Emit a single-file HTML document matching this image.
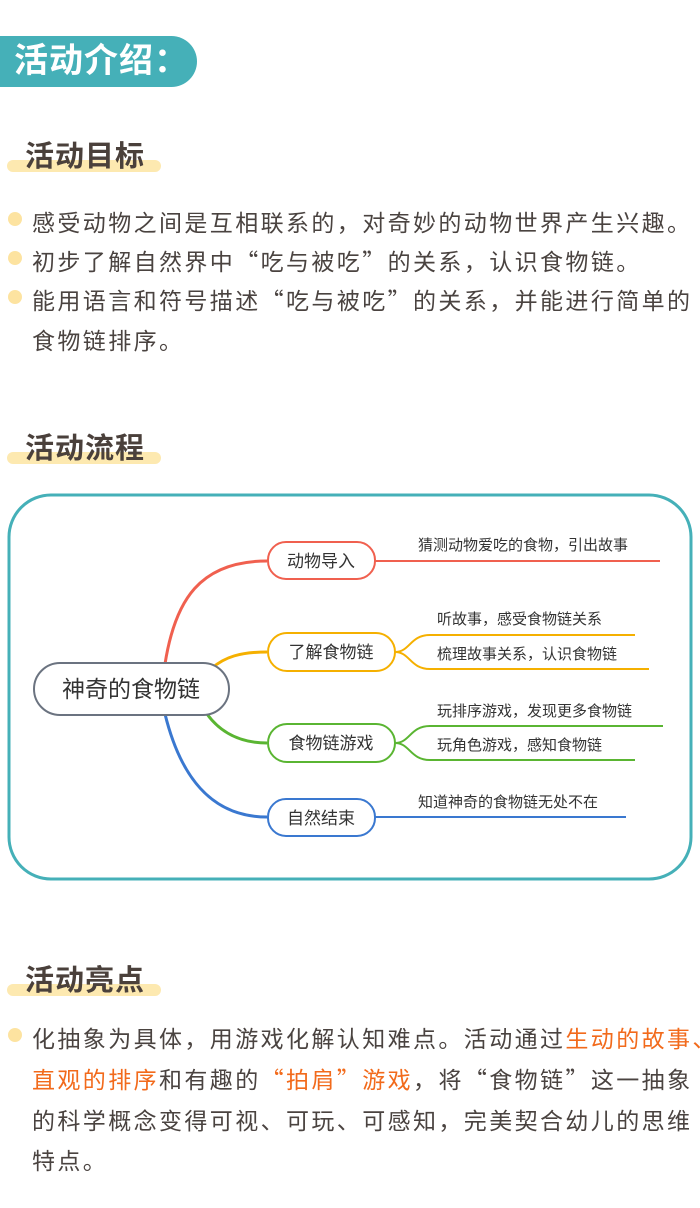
<!DOCTYPE html>
<html><head><meta charset="utf-8"><style>
*{margin:0;padding:0;box-sizing:border-box}
body{width:700px;height:1208px;background:#fff;position:relative;overflow:hidden;font-family:"Liberation Sans","Noto Sans CJK SC",sans-serif;color:#4a4340}
.a{position:absolute;white-space:nowrap}
.q{font-family:"Noto Sans CJK SC",sans-serif}
.pill{left:0;top:36px;width:197px;height:51px;background:#45b0b8;border-radius:0 26px 26px 0;color:#fff;font-size:34px;font-weight:bold;line-height:51px;padding-left:14px;letter-spacing:1px}
.h{font-size:29px;font-weight:bold;color:#4a403b;letter-spacing:1px}
.bar{height:12px;background:#fde9b0;border-radius:6px;width:154px;left:7px}
.dot{width:14px;height:14px;border-radius:50%;background:#fde3a0;left:8px}
.t{font-size:23px;letter-spacing:2.4px;left:32px}
.o{color:#f26a1b}
</style></head><body>
<div class="a pill">活动介绍：</div>

<div class="a bar" style="top:160px"></div>
<div class="a h" style="left:25px;top:133px">活动目标</div>
<div class="a dot" style="top:212px"></div>
<div class="a t" style="top:204px">感受动物之间是互相联系的，对奇妙的动物世界产生兴趣。</div>
<div class="a dot" style="top:251px"></div>
<div class="a t" style="top:243px">初步了解自然界中<span class="q">“</span>吃与被吃<span class="q">”</span>的关系，认识食物链。</div>
<div class="a dot" style="top:290px"></div>
<div class="a t" style="top:282px">能用语言和符号描述<span class="q">“</span>吃与被吃<span class="q">”</span>的关系，并能进行简单的</div>
<div class="a t" style="top:322px">食物链排序。</div>

<div class="a bar" style="top:452px"></div>
<div class="a h" style="left:25px;top:425px">活动流程</div>

<svg class="a" style="left:0;top:0" width="700" height="1208">
<rect x="9" y="495" width="682" height="384" rx="42" fill="none" stroke="#45b0b8" stroke-width="3"/>
<g fill="none" stroke-width="3">
<path d="M165 664 C175 600,200 561,267 561" stroke="#f0604f"/>
<path d="M212 668 C225 657,240 652,267 652" stroke="#f5b000"/>
<path d="M207 714 C220 732,240 743,267 743" stroke="#5ab532"/>
<path d="M165 714 C180 775,210 817,267 817" stroke="#3a78d0"/>
</g>
<g fill="none" stroke-width="2">
<path d="M375 561 H660" stroke="#f0604f"/>
<path d="M395 652 C410 652,410 635,430 635 H635" stroke="#f5b000"/>
<path d="M395 652 C410 652,410 669,430 669 H649" stroke="#f5b000"/>
<path d="M395 743 C410 743,410 726,430 726 H663" stroke="#5ab532"/>
<path d="M395 743 C410 743,410 760,430 760 H635" stroke="#5ab532"/>
<path d="M375 817 H626" stroke="#3a78d0"/>
<rect x="34" y="663" width="195" height="52" rx="26" fill="#fff" stroke="#6b7380" stroke-width="2"/>
<rect x="268" y="542" width="107" height="37" rx="18" fill="#fff" stroke="#f0604f"/>
<rect x="268" y="633" width="127" height="38" rx="19" fill="#fff" stroke="#f5b000"/>
<rect x="268" y="724" width="127" height="38" rx="19" fill="#fff" stroke="#5ab532"/>
<rect x="268" y="799" width="107" height="37" rx="18" fill="#fff" stroke="#3a78d0"/>
</g>
<g font-family="Liberation Sans,Noto Sans CJK SC,sans-serif" fill="#333">
<text x="131" y="697" font-size="23" text-anchor="middle">神奇的食物链</text>
<text x="321" y="567" font-size="17" text-anchor="middle">动物导入</text>
<text x="331" y="658" font-size="17" text-anchor="middle">了解食物链</text>
<text x="331" y="749" font-size="17" text-anchor="middle">食物链游戏</text>
<text x="321" y="824" font-size="17" text-anchor="middle">自然结束</text>
<g font-size="15">
<text x="418" y="550">猜测动物爱吃的食物，引出故事</text>
<text x="437" y="624">听故事，感受食物链关系</text>
<text x="437" y="659">梳理故事关系，认识食物链</text>
<text x="437" y="716">玩排序游戏，发现更多食物链</text>
<text x="437" y="750">玩角色游戏，感知食物链</text>
<text x="418" y="807">知道神奇的食物链无处不在</text>
</g></g>
</svg>

<div class="a bar" style="top:984px"></div>
<div class="a h" style="left:25px;top:957px">活动亮点</div>
<div class="a dot" style="top:1028px"></div>
<div class="a t" style="top:1020px">化抽象为具体，用游戏化解认知难点。活动通过<span class="o">生动的故事、</span></div>
<div class="a t" style="top:1061px"><span class="o">直观的排序</span>和有趣的<span class="o"><span class="q">“</span>拍肩<span class="q">”</span>游戏</span>，将<span class="q">“</span>食物链<span class="q">”</span>这一抽象</div>
<div class="a t" style="top:1102px">的科学概念变得可视、可玩、可感知，完美契合幼儿的思维</div>
<div class="a t" style="top:1142px">特点。</div>
</body></html>
